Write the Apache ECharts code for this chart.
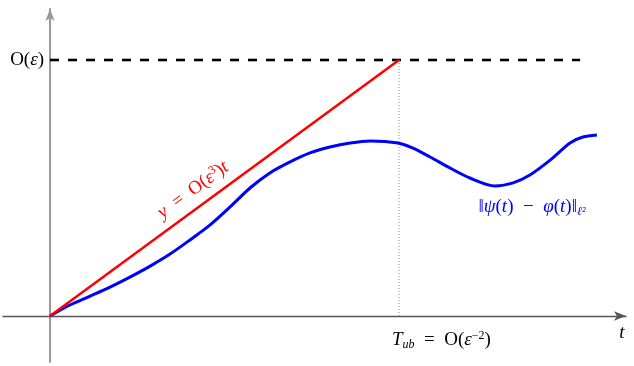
<!DOCTYPE html>
<html>
<head>
<meta charset="utf-8">
<script src="https://cdn.jsdelivr.net/npm/echarts@6/dist/echarts.min.js"></script>
<style>
  html, body { margin: 0; padding: 0; background: #fff; }
  #chart { width: 634px; height: 366px; }
</style>
</head>
<body>
<div id="chart"></div>
<script>
// t measured in units of T_ub, y in units of eps
const boundT = [0, 1];
const boundY = [0, 1];
const gapT = [0, 0.057, 0.115, 0.172, 0.229, 0.287, 0.344, 0.401, 0.458, 0.516, 0.573, 0.63, 0.688, 0.745, 0.802, 0.86, 0.917, 0.997, 1.04, 1.089, 1.146, 1.203, 1.275, 1.327, 1.375, 1.433, 1.49, 1.527, 1.567];
const gapY = [0, 0.043, 0.078, 0.113, 0.152, 0.195, 0.242, 0.297, 0.355, 0.426, 0.5, 0.559, 0.602, 0.637, 0.66, 0.676, 0.684, 0.676, 0.656, 0.621, 0.578, 0.539, 0.508, 0.52, 0.551, 0.609, 0.676, 0.699, 0.707];
const epsT = [0, 1.519];
const epsY = [1, 1];
const xTicks = [1]; // T_ub
const yTicks = [1]; // O(eps)

const zip = (a, b) => a.map((v, i) => [v, b[i]]);
const serif = '"Liberation Serif", "DejaVu Serif", serif';

function richSet(color, size) {
  return {
    i: { fontFamily: serif, fontSize: size, fontStyle: 'italic', color: color },
    r: { fontFamily: serif, fontSize: size, color: color },
    sup: { fontFamily: serif, fontSize: 12, color: color, padding: [0, 0, 9, 0] },
    sub: { fontFamily: serif, fontSize: 12, fontStyle: 'italic', color: color, padding: [9, 0, 0, 0] }
  };
}

const chart = echarts.init(document.getElementById('chart'));

const option = {
  animation: false,
  grid: { left: 3, right: 8, top: 9, bottom: 4, containLabel: false, outerBoundsMode: 'none' },
  xAxis: {
    type: 'value',
    min: -0.1347,
    max: 1.6504,
    splitLine: { show: false },
    axisTick: { show: false },
    axisLabel: { show: false },
    axisLine: {
      onZero: true,
      lineStyle: { color: '#555', width: 1.3 },
      symbol: ['none', 'arrow'],
      symbolSize: [7, 12]
    },
    name: 't',
    nameLocation: 'end',
    nameGap: -4,
    nameTextStyle: {
      fontFamily: serif, fontSize: 19, fontStyle: 'italic', color: '#000',
      align: 'center', verticalAlign: 'top', padding: [8, 0, 0, 0]
    }
  },
  yAxis: {
    type: 'value',
    min: -0.1797,
    max: 1.1992,
    splitLine: { show: false },
    axisTick: { show: false },
    axisLabel: { show: false },
    axisLine: {
      onZero: true,
      lineStyle: { color: '#999', width: 2 },
      symbol: ['none', 'arrow'],
      symbolSize: [7, 12]
    }
  },
  series: [
    {
      type: 'line',
      data: zip(epsT, epsY),
      symbol: 'none',
      lineStyle: { color: '#000', width: 2.6, type: [9, 9] },
      z: 1,
      markPoint: {
        symbol: 'circle',
        symbolSize: 0,
        data: [{ coord: [0, yTicks[0]] }],
        label: {
          show: true,
          position: 'left',
          distance: 6,
          formatter: () => '{r|O(}{i|ε}{r|)}',
          rich: richSet('#000', 19)
        }
      }
    },
    {
      type: 'line',
      data: [[xTicks[0], 0], [xTicks[0], yTicks[0]]],
      symbol: 'none',
      lineStyle: { color: '#888', width: 1, type: [1, 2] },
      z: 1,
      markPoint: {
        symbol: 'circle',
        symbolSize: 0,
        data: [{ coord: [xTicks[0], 0] }],
        label: {
          show: true,
          position: [-7, 14],
          formatter: () => '{i|T}{sub|ub}{r|  =  }{r|O(}{i|ε}{sup|−2}{r|)}',
          rich: richSet('#000', 19)
        }
      }
    },
    {
      type: 'line',
      data: zip(boundT, boundY),
      symbol: 'none',
      lineStyle: { color: '#ff0000', width: 2.5 },
      z: 3,
      markPoint: {
        symbol: 'circle',
        symbolSize: 0,
        data: [{ coord: [0.41, 0.492] }],
        label: {
          show: true,
          position: 'inside',
          rotate: 36.3,
          formatter: () => '{i|y}{r|  =  }{r|O(}{i|ε}{sup|3}{r|)}{i|t}',
          rich: richSet('#ff0000', 19)
        }
      }
    },
    {
      type: 'line',
      data: zip(gapT, gapY),
      symbol: 'none',
      smooth: 0.3,
      lineStyle: { color: '#0000ff', width: 3 },
      z: 2,
      markPoint: {
        symbol: 'circle',
        symbolSize: 0,
        data: [{ coord: [1.381, 0.426] }],
        label: {
          show: true,
          position: 'inside',
          formatter: () => '{r|‖}{i|ψ}{r|(}{i|t}{r|)  −  }{i|φ}{r|(}{i|t}{r|)‖}{sub|ℓ²}',
          rich: richSet('#0000ff', 19)
        }
      }
    }
  ]
};

chart.setOption(option);
</script>
</body>
</html>
